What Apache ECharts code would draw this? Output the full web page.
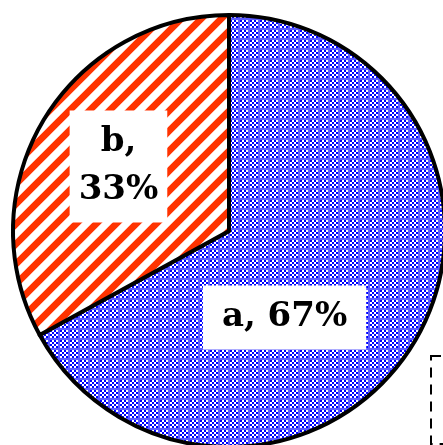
<!DOCTYPE html>
<html>
<head>
<meta charset="utf-8">
<script src="https://cdn.jsdelivr.net/npm/echarts@6/dist/echarts.min.js"></script>
<style>
    html, body { margin: 0; padding: 0; background: #fff; }
    #chart { width: 443px; height: 445px; }
</style>
</head>
<body>
<div id="chart"></div>
<script>
// pie data
var names = ['a', 'b'];
var shares = [67, 33];

// fill patterns (cell = pixel size of one pattern cell)
function blueTile(cell) {
    var c = document.createElement('canvas');
    c.width = 5 * cell;
    c.height = 5 * cell;
    var ctx = c.getContext('2d');
    for (var y = 0; y < 5; y++) {
        for (var x = 0; x < 5; x++) {
            if (x == 4 || y == 4) {
                ctx.fillStyle = '#5a5aff';
            } else if ((x + y) % 2 == 0) {
                ctx.fillStyle = '#0000ff';
            } else {
                ctx.fillStyle = '#ffffff';
            }
            ctx.fillRect(x * cell, y * cell, cell, cell);
        }
    }
    return c;
}

function redTile(s) {
    var c = document.createElement('canvas');
    c.width = s;
    c.height = s;
    var ctx = c.getContext('2d');
    ctx.fillStyle = '#ffffff';
    ctx.fillRect(0, 0, s, s);
    ctx.strokeStyle = '#ff3300';
    ctx.lineWidth = s * 0.34;
    ctx.beginPath();
    ctx.moveTo(-s / 2, s / 2); ctx.lineTo(s / 2, -s / 2);
    ctx.moveTo(0, s); ctx.lineTo(s, 0);
    ctx.moveTo(s / 2, s * 1.5); ctx.lineTo(s * 1.5, s / 2);
    ctx.stroke();
    return c;
}

var fills = [
    {image: blueTile(2), repeat: 'repeat'},
    {image: redTile(20), repeat: 'repeat'}
];
var labelPads = [[8, 19], [8, 9]];
var labelShift = [[-40, 30], [-15, -8]];

var pieData = [];
for (var i = 0; i < names.length; i++) {
    pieData.push({
        name: names[i],
        value: shares[i],
        itemStyle: {color: fills[i]},
        label: {padding: labelPads[i]}
    });
}

var chart = echarts.init(document.getElementById('chart'));
var option = {
    animation: false,
    legend: {
        left: 431,
        top: 356,
        orient: 'vertical',
        data: names,
        padding: [12, 16],
        itemHeight: 20,
        itemGap: 20,
        borderColor: '#000',
        borderWidth: 2,
        borderType: [10, 7],
        textStyle: {fontFamily: 'DejaVu Serif', fontSize: 20}
    },
    series: [
        {
            type: 'pie',
            center: [229, 231],
            radius: 216,
            startAngle: 90,
            clockwise: true,
            itemStyle: {
                borderColor: '#000',
                borderWidth: 4
            },
            label: {
                position: 'inside',
                formatter: function (p) {
                    return p.dataIndex == 1 ? p.name + ',\n' + p.value + '%' : p.name + ', ' + p.value + '%';
                },
                fontFamily: 'DejaVu Serif',
                fontWeight: 'bold',
                fontSize: 34,
                lineHeight: 48,
                color: '#000',
                backgroundColor: '#fff'
            },
            labelLayout: function (params) {
                return {dx: labelShift[params.dataIndex][0], dy: labelShift[params.dataIndex][1]};
            },
            emphasis: {disabled: true},
            data: pieData
        }
    ]
};
chart.setOption(option);
</script>
</body>
</html>
